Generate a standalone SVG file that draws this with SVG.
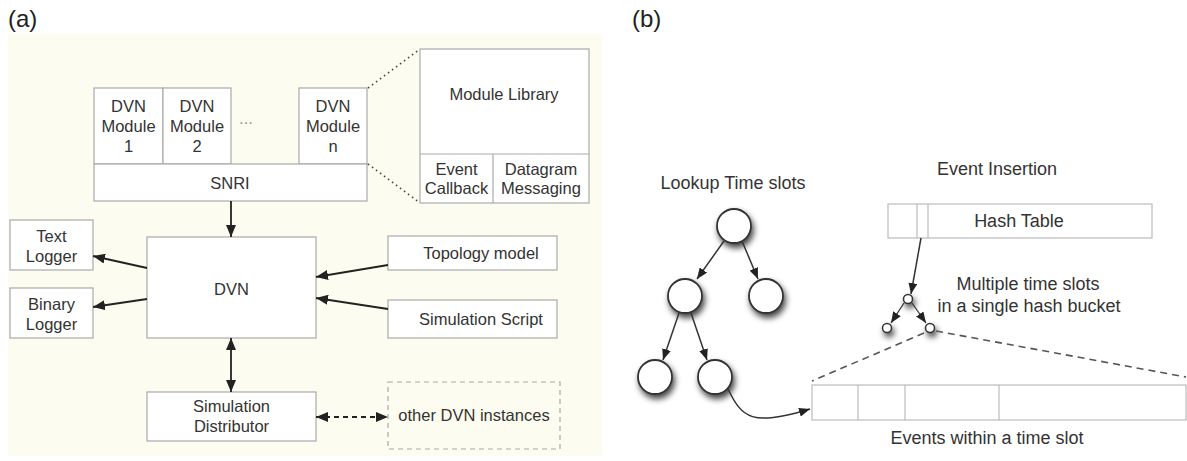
<svg xmlns="http://www.w3.org/2000/svg" width="1187" height="461" viewBox="0 0 1187 461">
<style>
text{font-family:"Liberation Sans",Arial,sans-serif;fill:#333;text-anchor:middle}
.l{font-size:16.5px}
.r{font-size:18px}
.lbl{font-size:24px;text-anchor:start;fill:#222}
.box{fill:#fff;stroke:#aaa;stroke-width:1.2}
.dbox{fill:none;stroke:#aaa;stroke-width:1.2;stroke-dasharray:5,4}
.ln{fill:none;stroke:#bbb;stroke-width:1.2}
.arr{stroke:#222;stroke-width:1.8;fill:none}
.arrR{stroke:#333;stroke-width:1.5;fill:none}
.dot{stroke:#444;stroke-width:1.6;stroke-dasharray:1.5,3.5;fill:none}
.dash{stroke:#555;stroke-width:1.6;stroke-dasharray:7,5;fill:none}
.circ{fill:#fff;stroke:#333;stroke-width:1.8}
</style>
<defs>
<marker id="ah" markerUnits="userSpaceOnUse" markerWidth="12" markerHeight="10" refX="12" refY="5" orient="auto-start-reverse">
<path d="M0,0 L12,5 L0,10 z" fill="#222"/>
</marker>
<marker id="ahs" markerUnits="userSpaceOnUse" markerWidth="11" markerHeight="9" refX="11" refY="4.5" orient="auto-start-reverse">
<path d="M0,0 L11,4.5 L0,9 z" fill="#222"/>
</marker>
<filter id="sh" x="-50%" y="-50%" width="200%" height="200%">
<feGaussianBlur in="SourceAlpha" stdDeviation="3"/>
<feOffset dx="2" dy="4" result="b"/>
<feComponentTransfer><feFuncA type="linear" slope="0.75"/></feComponentTransfer>
<feMerge><feMergeNode/><feMergeNode in="SourceGraphic"/></feMerge>
</filter>
</defs>
<rect x="0" y="0" width="1187" height="461" fill="#fff"/>
<rect x="8" y="34" width="594" height="422" fill="#fdfcf0"/>
<text class="lbl" x="8" y="27">(a)</text>
<text class="lbl" x="632" y="27">(b)</text>

<g id="modules">
<rect class="box" x="94" y="88" width="69" height="76"/>
<text class="l" x="128.5" y="112">DVN</text><text class="l" x="128.5" y="132">Module</text><text class="l" x="128.5" y="152">1</text>
<rect class="box" x="163" y="88" width="68" height="76"/>
<text class="l" x="197" y="112">DVN</text><text class="l" x="197" y="132">Module</text><text class="l" x="197" y="152">2</text>
<text class="l" x="246" y="124" style="fill:#999">...</text>
<rect class="box" x="299" y="88" width="68" height="76"/>
<text class="l" x="333" y="112">DVN</text><text class="l" x="333" y="132">Module</text><text class="l" x="333" y="152">n</text>
</g>
<g id="snri">
<rect class="box" x="94" y="164" width="273" height="37"/>
<text class="l" x="230" y="189">SNRI</text>
</g>
<g id="modlib">
<rect class="box" x="420" y="49" width="169" height="154"/>
<line class="ln" x1="420" y1="154" x2="589" y2="154" style="stroke:#aaa"/>
<line class="ln" x1="493" y1="154" x2="493" y2="203" style="stroke:#aaa"/>
<text class="l" x="504" y="100">Module Library</text>
<text class="l" x="456.5" y="175">Event</text><text class="l" x="456.5" y="194">Callback</text>
<text class="l" x="541" y="175">Datagram</text><text class="l" x="541" y="194">Messaging</text>
</g>
<g id="dvn"><rect class="box" x="147" y="237" width="169" height="101"/><text class="l" x="231.5" y="295">DVN</text></g>
<g id="textlogger"><rect class="box" x="10" y="220" width="83" height="50"/><text class="l" x="51.5" y="242">Text</text><text class="l" x="51.5" y="262">Logger</text></g>
<g id="binlogger"><rect class="box" x="10" y="288" width="83" height="50"/><text class="l" x="51.5" y="310">Binary</text><text class="l" x="51.5" y="330">Logger</text></g>
<g id="topology"><rect class="box" x="388" y="236" width="169" height="34"/><text class="l" x="481" y="259">Topology model</text></g>
<g id="script"><rect class="box" x="388" y="300" width="169" height="38"/><text class="l" x="481" y="325">Simulation Script</text></g>
<g id="simdist"><rect class="box" x="147" y="392" width="169" height="49"/><text class="l" x="231.5" y="412">Simulation</text><text class="l" x="231.5" y="432">Distributor</text></g>
<g id="otherdvn"><rect class="dbox" x="388" y="382" width="172" height="67"/><text class="l" x="474" y="421">other DVN instances</text></g>

<g id="hashtable">
<rect class="ln" x="888" y="204" width="264" height="34" style="fill:#fff"/>
<line class="ln" x1="917" y1="204" x2="917" y2="238"/>
<line class="ln" x1="928" y1="204" x2="928" y2="238"/>
<text class="r" x="1019" y="227">Hash Table</text>
</g>
<g id="events">
<rect class="ln" x="812" y="385" width="374" height="35" style="fill:#fff"/>
<line class="ln" x1="858" y1="385" x2="858" y2="420"/>
<line class="ln" x1="905" y1="385" x2="905" y2="420"/>
<line class="ln" x1="999" y1="385" x2="999" y2="420"/>
<text class="r" x="987" y="444">Events within a time slot</text>
</g>
<g id="tree" filter="url(#sh)">
<circle class="circ" cx="734" cy="226" r="17"/>
<circle class="circ" cx="685" cy="296" r="17"/>
<circle class="circ" cx="766" cy="296" r="17"/>
<circle class="circ" cx="655" cy="377" r="17"/>
<circle class="circ" cx="715" cy="377" r="17"/>
</g>
<g id="bucket" filter="url(#sh)">
<circle class="circ" cx="908" cy="299" r="4.5" style="stroke-width:1.5"/>
<circle class="circ" cx="887" cy="328" r="4.5" style="stroke-width:1.5"/>
<circle class="circ" cx="930" cy="328" r="4.5" style="stroke-width:1.5"/>
</g>
<g id="titles">
<text class="r" x="733" y="189">Lookup Time slots</text>
<text class="r" x="997" y="175">Event Insertion</text>
<text class="r" x="1028" y="290">Multiple time slots</text>
<text class="r" x="1029" y="312">in a single hash bucket</text>
</g>

<g id="connectors">
<line class="dot" x1="368" y1="88" x2="420" y2="49"/>
<line class="dot" x1="368" y1="164" x2="420" y2="203"/>
<line class="arr" x1="231" y1="201" x2="231" y2="237" marker-end="url(#ah)"/>
<line class="arr" x1="147" y1="268" x2="93" y2="256" marker-end="url(#ah)"/>
<line class="arr" x1="147" y1="299" x2="93" y2="307" marker-end="url(#ah)"/>
<line class="arr" x1="388" y1="265" x2="316" y2="277" marker-end="url(#ah)"/>
<line class="arr" x1="388" y1="309" x2="316" y2="298" marker-end="url(#ah)"/>
<line class="arr" x1="231" y1="338" x2="231" y2="392" marker-start="url(#ah)" marker-end="url(#ah)"/>
<line class="arr" x1="316" y1="417" x2="388" y2="417" style="stroke-dasharray:5,4" marker-start="url(#ah)" marker-end="url(#ah)"/>

<line class="arrR" x1="724" y1="241" x2="697" y2="279" marker-end="url(#ahs)"/>
<line class="arrR" x1="742" y1="241" x2="758" y2="279" marker-end="url(#ahs)"/>
<line class="arrR" x1="679" y1="313" x2="663" y2="360" marker-end="url(#ahs)"/>
<line class="arrR" x1="691" y1="313" x2="707" y2="360" marker-end="url(#ahs)"/>
<path class="arrR" d="M728,389 C742,418 752,427 810,409" marker-end="url(#ahs)"/>
<line class="arrR" x1="921" y1="238" x2="911" y2="294" marker-end="url(#ahs)"/>
<line class="arrR" x1="904" y1="303" x2="891" y2="323" style="stroke-width:1.3" marker-end="url(#ahs)"/>
<line class="arrR" x1="912" y1="303" x2="926" y2="323" style="stroke-width:1.3" marker-end="url(#ahs)"/>
<line class="dash" x1="924" y1="333" x2="812" y2="381"/>
<line class="dash" x1="936" y1="331" x2="1186" y2="377"/>
</g>
</svg>
